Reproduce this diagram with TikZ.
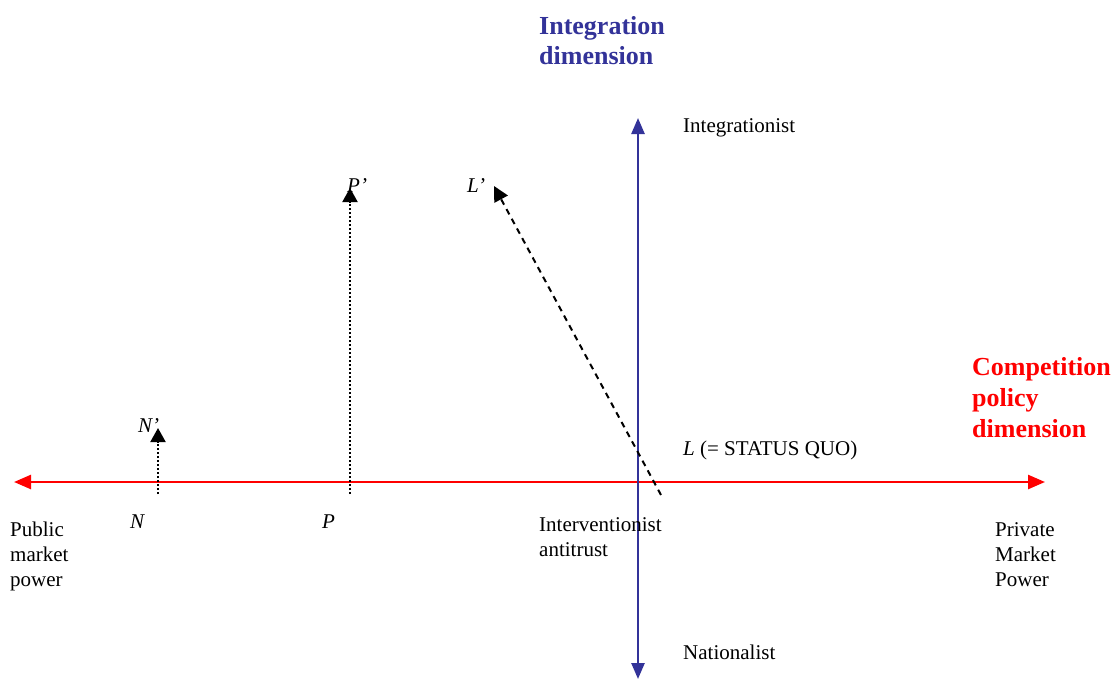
\documentclass[tikz,border=0pt]{standalone}
\usepackage{fontspec}
\setmainfont{Liberation Serif}
\usetikzlibrary{arrows.meta}
\definecolor{axisblue}{RGB}{51,51,153}
\definecolor{axisred}{RGB}{255,0,0}
\begin{document}
\begin{tikzpicture}[x=1pt,y=-1pt,
  lbl/.style={inner sep=0pt, anchor=base west, font=\fontsize{21}{25}\selectfont, align=left},
  ttl/.style={inner sep=0pt, anchor=base west, font=\fontsize{26}{31}\selectfont\bfseries, align=left},
  redaxis/.style={draw=axisred, line width=2.5pt, {Triangle[length=17pt,width=14pt]}-{Triangle[length=17pt,width=14pt]}},
  blueaxis/.style={draw=axisblue, line width=2.5pt, {Triangle[length=16pt,width=13pt]}-{Triangle[length=16pt,width=13pt]}},
  dotarrow/.style={draw=black, line width=2pt, dash pattern=on 2pt off 2pt, -{Triangle[length=14pt,width=15pt]}},
  dasharrow/.style={draw=black, line width=2pt, dash pattern=on 6pt off 5pt, -{Triangle[length=15pt,width=15pt]}}
]
\useasboundingbox (0,0) rectangle (1118,680);

% axes end points
\coordinate (hl) at (14,482);
\coordinate (hr) at (1045,482);
\coordinate (vt) at (638,118);
\coordinate (vb) at (638,679);
% movement end points
\coordinate (nb) at (158,494);
\coordinate (nt) at (158,428);
\coordinate (pb) at (350,494);
\coordinate (pt) at (350,188);
\coordinate (lb) at (661,495);
\coordinate (lt) at (494,186);

\draw[redaxis] (hl) -- (hr);
\draw[blueaxis] (vt) -- (vb);
\draw[dotarrow] (nb) -- (nt);
\draw[dotarrow] (pb) -- (pt);
\draw[dasharrow] (lb) -- (lt);

% labels
\node[ttl, text=axisblue] (intdim) at (539,64) {Integration\\[-1pt]dimension};
\node[ttl, text=axisred] (compdim) at (972,437) {Competition\\policy\\dimension};
\node[lbl] (integ) at (683,132) {Integrationist};
\node[lbl] (nation) at (683,659) {Nationalist};
\node[lbl] (status) at (683,455) {\textit{L} (= STATUS QUO)};
\node[lbl] (pprime) at (347,192) {\textit{P’}};
\node[lbl] (lprime) at (467,192) {\textit{L’}};
\node[lbl] (nprime) at (138,432) {\textit{N’}};
\node[lbl] (nlab) at (130,528) {\textit{N}};
\node[lbl] (plab) at (322,528) {\textit{P}};
\node[lbl] (public) at (10,586) {Public\\market\\power};
\node[lbl] (interv) at (539,556) {Interventionist\\antitrust};
\node[lbl] (private) at (995,586) {Private\\Market\\Power};
\end{tikzpicture}
\end{document}
